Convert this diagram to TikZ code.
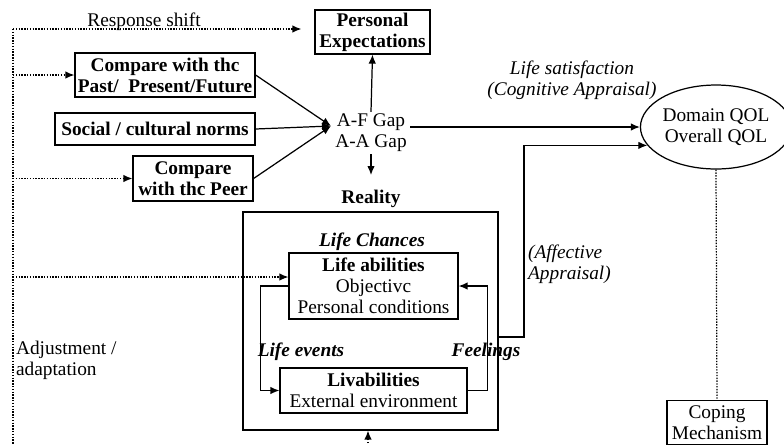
\documentclass[tikz,border=0pt]{standalone}
\usepackage{fontspec}
\setmainfont{Liberation Serif}
\usetikzlibrary{arrows.meta,positioning,calc,shapes.geometric}

\begin{document}
\begin{tikzpicture}[x=0.02cm,y=-0.02cm,
    every node/.style={font=\fontsize{11}{12}\selectfont,inner sep=1pt},
    box/.style={draw,line width=0.7pt,align=center,font=\fontsize{11}{12}\selectfont\bfseries},
    plainbox/.style={box,font=\fontsize{11}{12}\selectfont},
    emph/.style={font=\fontsize{11}{12}\selectfont\bfseries\itshape},
    arr/.style={-{Latex[length=1.8mm,width=1.5mm]},line width=0.7pt},
    dotarr/.style={arr,dash pattern=on 0.8pt off 0.8pt},
    dotline/.style={line width=0.7pt,dash pattern=on 0.8pt off 0.8pt}]
  \useasboundingbox (0,0) rectangle (784,444);

  \node[box,minimum width=2.3cm,minimum height=0.88cm] (pe) at (372.5,32) {Personal\\Expectations};
  \node[box,minimum width=3.6cm,minimum height=0.88cm] (past) at (165,75) {Compare with thc\\Past/\ \ Present/Future};
  \node[box,minimum width=4.0cm,minimum height=0.64cm] (soc) at (155,129) {Social / cultural norms};
  \node[box,minimum width=2.4cm,minimum height=0.9cm] (peer) at (193,178.5) {Compare\\with thc Peer};
  \node[align=center] (gap) at (371,133) {A-F Gap\\A-A Gap};
  \coordinate (conv) at (331,126);
  \coordinate (afo) at (410,127);
  \coordinate (gapdn) at (371,175);

  \node[font=\fontsize{11}{12}\selectfont\bfseries] (real lbl) at (371,199) {Reality};
  \node[draw,line width=0.7pt,minimum width=5.1cm,minimum height=4.36cm] (real) at (370.5,321) {};
  \node[emph] (chances) at (372,242) {Life Chances};
  \node[plainbox,minimum width=3.38cm,minimum height=1.32cm] (la) at (373.5,286) {\textbf{Life abilities}\\Objectivc\\Personal conditions};
  \node[plainbox,minimum width=3.74cm,minimum height=0.9cm] (liv) at (373.5,390.5) {\textbf{Livabilities}\\External environment};
  \node[emph] (events) at (301,352) {Life events};
  \node[emph] (feel) at (486,352) {Feelings};

  \node[ellipse,draw,line width=0.7pt,minimum width=2.56cm,minimum height=1.68cm,inner sep=0pt,align=center] (qol) at (716,127) {Domain QOL\\Overall QOL};
  \node[font=\fontsize{11}{12}\selectfont\itshape,align=center] (sat) at (572,80) {Life satisfaction\\(Cognitive Appraisal)};
  \node[font=\fontsize{11}{12}\selectfont\itshape,align=left,anchor=west] (affl) at (526,264) {(Affective\\Appraisal)};
  \coordinate (aff) at (524,337);
  \node[plainbox,minimum width=2cm,minimum height=0.88cm,anchor=north] (cope) at (717,400) {Coping\\Mechanism};

  \node (rs) at (144,22) {Response shift};
  \node[align=left,anchor=west] (adj) at (14,360) {Adjustment /\\adaptation};
  \coordinate (top) at (13,29);
  \coordinate (bot) at (13,446);
  \coordinate (ab) at (13,277);
  \coordinate (bb) at (368,446);

  % gap and expectations
  \foreach \n in {past,soc,peer}
    \draw[arr] (\n.east) -- (conv);
  \draw[arr] (gap.north) -- (pe.south);
  \draw[arr] (gap.south) -- (gapdn);
  \draw[arr] (afo) -- (qol.west);

  % inside reality
  \draw[arr] (la.west) -- ++(-28,0) |- (liv.west);
  \draw[arr] (liv.east) -- ++(20,0) |- (la.east);
  \draw[arr] (aff -| real.east) -- (aff) |- (qol.195);

  % dotted feedback
  \draw[dotline] (top) -- (bot);
  \draw[dotarr,shorten >=0.26cm] (top) -- (top -| pe.west);
  \foreach \n in {past,peer}
    \draw[dotarr] (top |- \n.west) -- (\n.west);
  \draw[dotarr] (ab) -- (ab -| la.west);
  \draw[dotarr] (bb) -- (bb |- real.south);
  \draw[dotline] (qol.south) -- (cope.north);
\end{tikzpicture}
\end{document}
